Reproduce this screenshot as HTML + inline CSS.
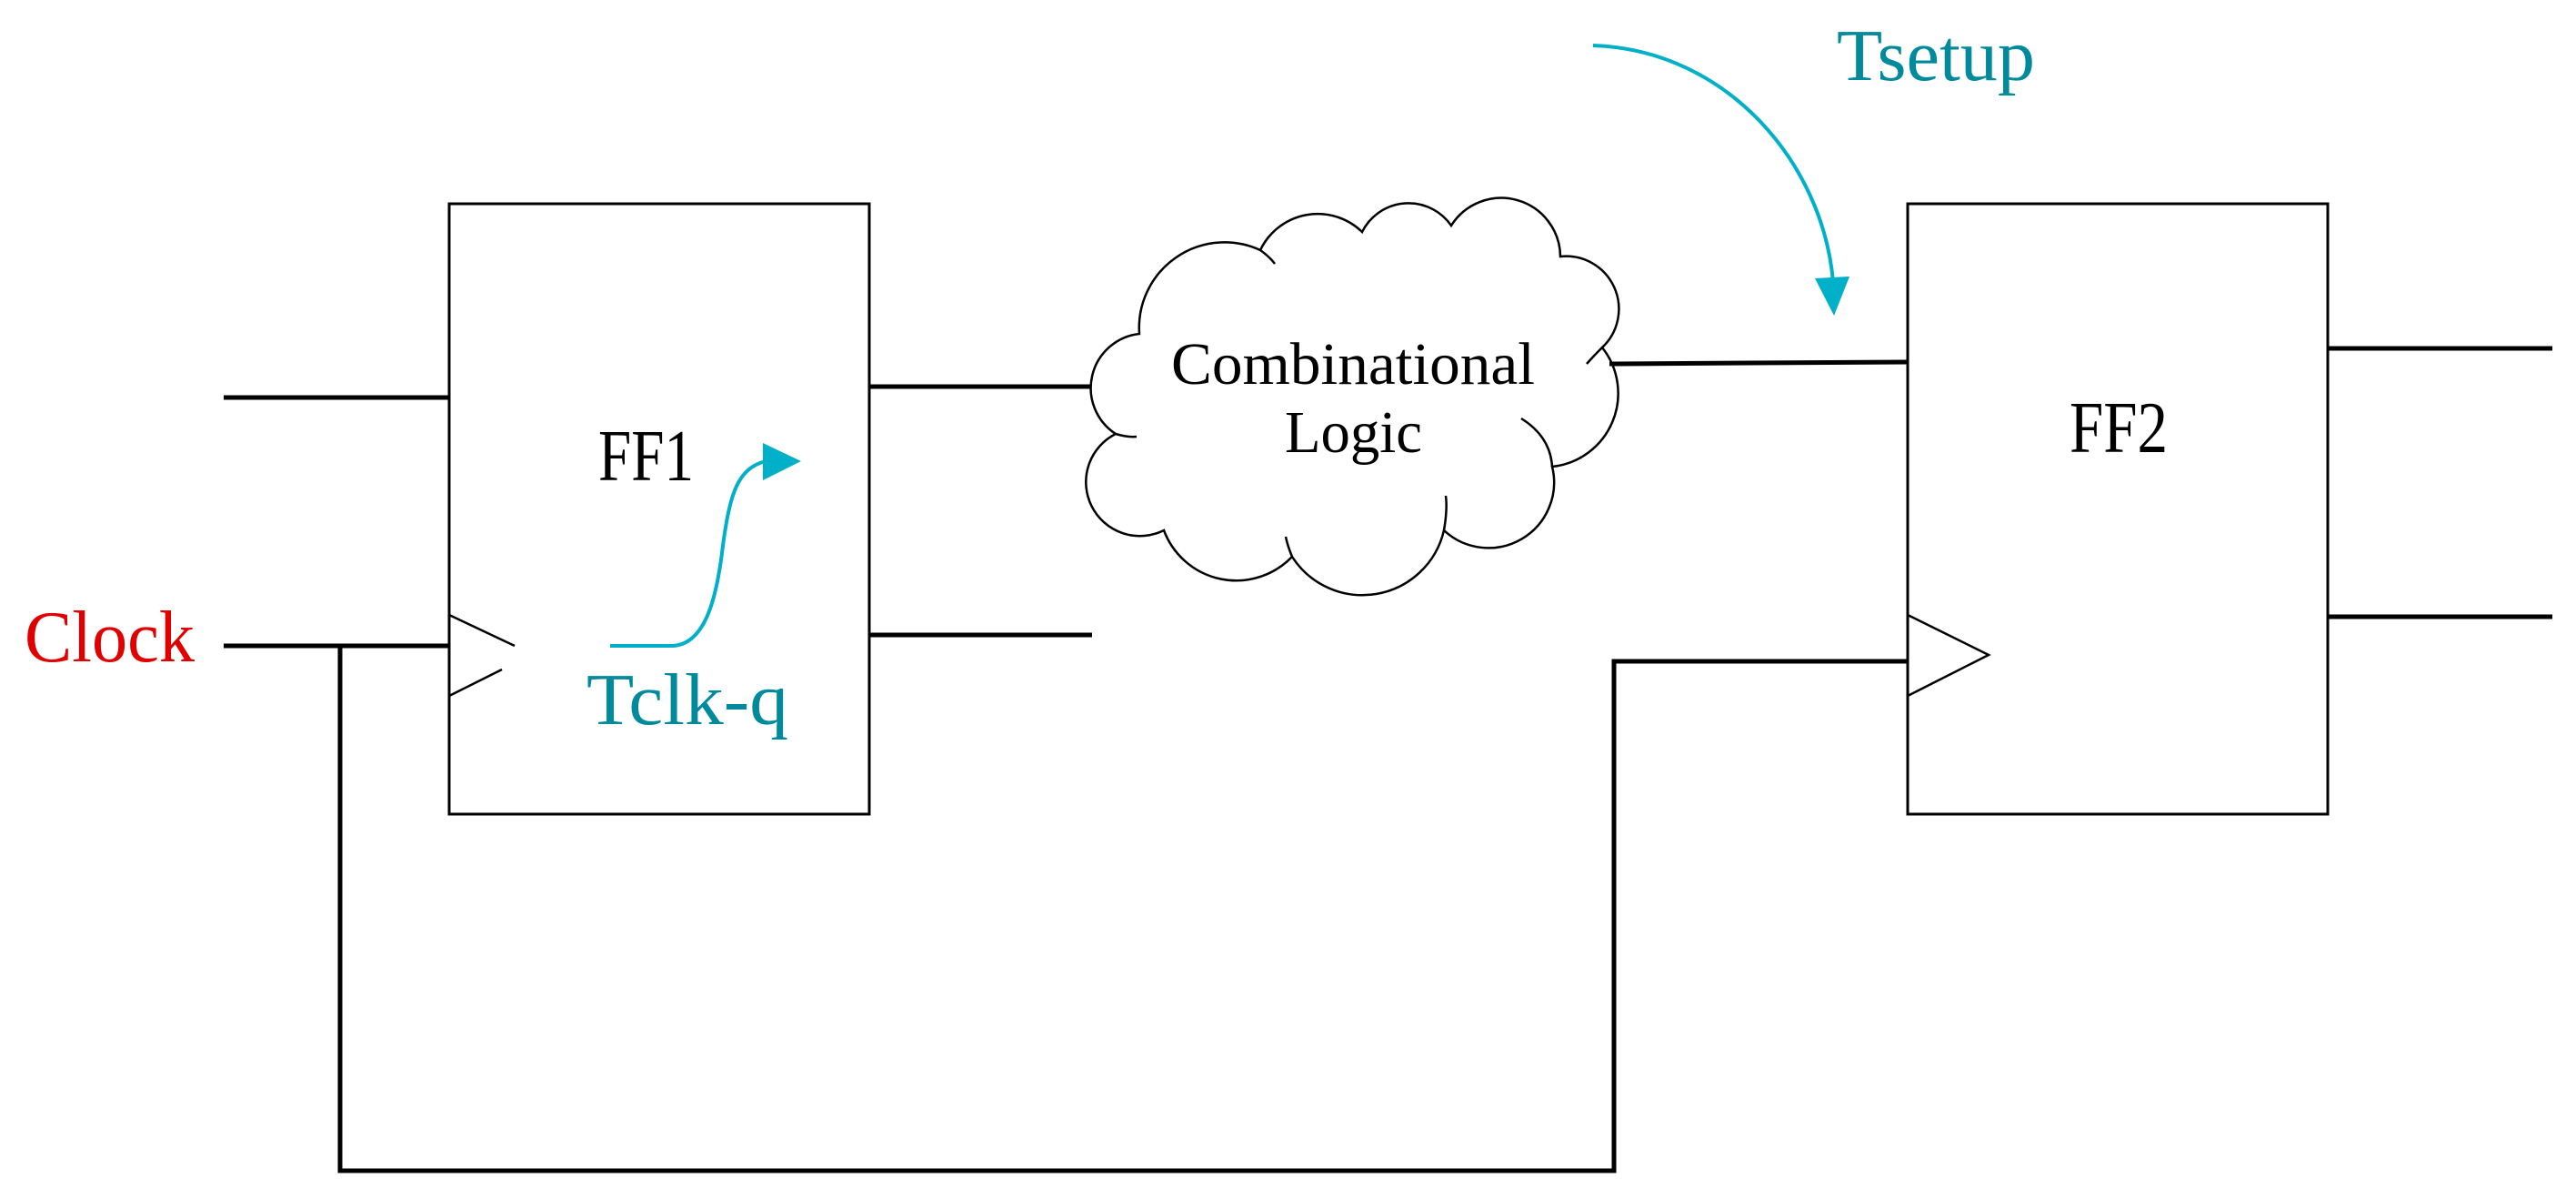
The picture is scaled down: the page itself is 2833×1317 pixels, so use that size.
<!DOCTYPE html>
<html><head><meta charset="utf-8"><style>
html,body{margin:0;padding:0;background:#fff;}
svg{display:block;}
text{font-family:"Liberation Serif","Noto Serif CJK SC",serif;}
</style></head><body>
<svg width="2833" height="1317" viewBox="0 0 2833 1317" xmlns="http://www.w3.org/2000/svg">
<rect width="2833" height="1317" fill="#fff"/>
<!-- FF1 -->
<rect x="494" y="224" width="462" height="671" fill="none" stroke="#000" stroke-width="3"/>
<line x1="246" y1="437" x2="494" y2="437" stroke="#000" stroke-width="5"/>
<line x1="246" y1="710" x2="494" y2="710" stroke="#000" stroke-width="5"/>
<polyline points="494,676 566,710" fill="none" stroke="#000" stroke-width="2.5"/>
<polyline points="494,765 552,736" fill="none" stroke="#000" stroke-width="2.5"/>
<line x1="956" y1="425" x2="1201" y2="425" stroke="#000" stroke-width="5"/>
<line x1="956" y1="698" x2="1201" y2="698" stroke="#000" stroke-width="5"/>
<!-- clock path -->
<polyline points="374,710 374,1287 1775,1287 1775,727 2098,727" fill="none" stroke="#000" stroke-width="5"/>
<!-- cloud -->
<path d="M1253,367 A94,94 0 0 1 1386,275 A70,70 0 0 1 1498,255 A57,57 0 0 1 1596,248 A65,65 0 0 1 1716,282 A58,58 0 0 1 1762,382 A81,81 0 0 1 1707,513 A72,72 0 0 1 1588,583 A92,92 0 0 1 1421,612 A85,85 0 0 1 1280,583 A59,59 0 0 1 1227,477 A60,60 0 0 1 1253,367 Z" fill="#fff" stroke="#000" stroke-width="2.5"/>
<path d="M1386,275 Q1396,282 1402,290" fill="none" stroke="#000" stroke-width="2.5"/>
<path d="M1762,382 Q1752,392 1745,400" fill="none" stroke="#000" stroke-width="2.5"/>
<path d="M1673,460 Q1705,480 1707,513" fill="none" stroke="#000" stroke-width="2.5"/>
<path d="M1588,583 Q1592,560 1590,545" fill="none" stroke="#000" stroke-width="2.5"/>
<path d="M1421,612 Q1416,600 1414,590" fill="none" stroke="#000" stroke-width="2.5"/>
<path d="M1227,477 Q1240,481 1250,480" fill="none" stroke="#000" stroke-width="2.5"/>
<line x1="1770" y1="400" x2="2098" y2="398" stroke="#000" stroke-width="5"/>
<!-- FF2 -->
<rect x="2098" y="224" width="462" height="671" fill="none" stroke="#000" stroke-width="3"/>
<polyline points="2098,676 2187,720 2098,765" fill="none" stroke="#000" stroke-width="2.5"/>
<line x1="2560" y1="383" x2="2807" y2="383" stroke="#000" stroke-width="5"/>
<line x1="2560" y1="678" x2="2807" y2="678" stroke="#000" stroke-width="5"/>
<!-- Tclk-q arrow -->
<path d="M671,710 L740,710 C775,708 788,660 795,600 C803,540 812,515 842,507" fill="none" stroke="#00b0c8" stroke-width="4"/>
<polygon points="839,487 881,507 839,528" fill="#00b0c8"/>
<!-- Tsetup arrow -->
<path d="M1752,50 C1900,55 2005,180 2016,310" fill="none" stroke="#00b0c8" stroke-width="4"/>
<polygon points="1996,306 2034,304 2017,347" fill="#00b0c8"/>
<!-- labels -->
<text x="27" y="727" font-size="80" fill="#e00000" textLength="187" lengthAdjust="spacingAndGlyphs">Clock</text>
<text x="658" y="528" font-size="80" fill="#000" textLength="105" lengthAdjust="spacingAndGlyphs">FF1</text>
<text x="645" y="796" font-size="80" fill="#008a9c" textLength="222" lengthAdjust="spacingAndGlyphs">Tclk-q</text>
<text x="1288" y="422" font-size="66" fill="#000" textLength="400" lengthAdjust="spacingAndGlyphs">Combinational</text>
<text x="1413" y="497" font-size="66" fill="#000" textLength="151" lengthAdjust="spacingAndGlyphs">Logic</text>
<text x="2276" y="497" font-size="80" fill="#000" textLength="108" lengthAdjust="spacingAndGlyphs">FF2</text>
<text x="2020" y="88" font-size="80" fill="#008a9c" textLength="218" lengthAdjust="spacingAndGlyphs">Tsetup</text>
</svg>
</body></html>
